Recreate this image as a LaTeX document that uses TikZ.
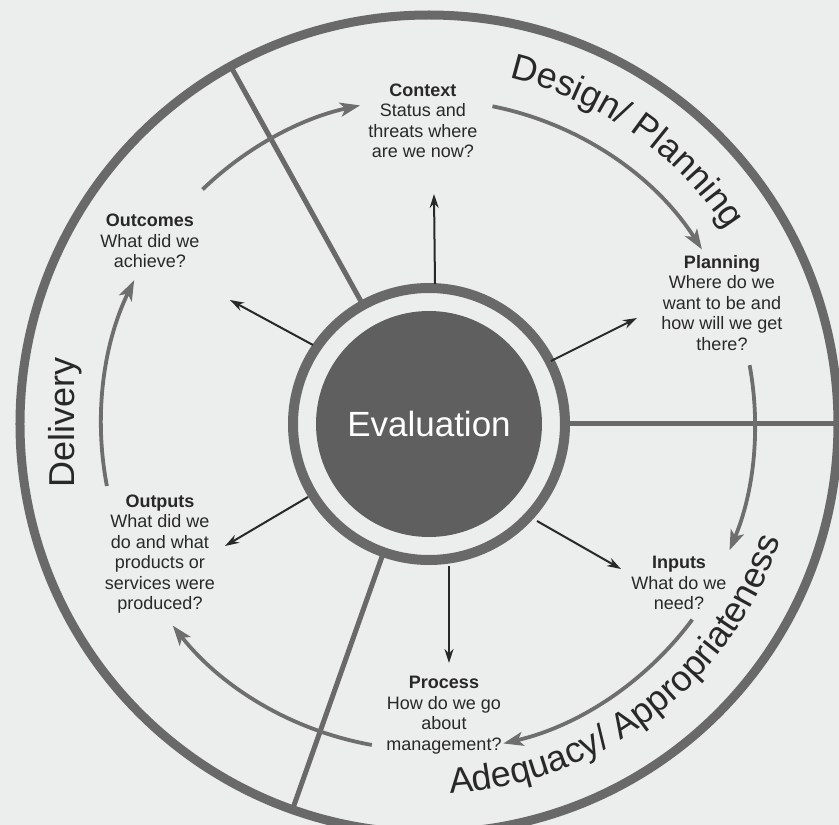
\documentclass[tikz,border=0pt]{standalone}
\usepackage{fontspec}
\setmainfont{Liberation Sans}
\usetikzlibrary{arrows.meta,decorations.text}
\definecolor{bg}{RGB}{236,237,237}
\definecolor{ringgrey}{RGB}{105,105,105}
\definecolor{corefill}{RGB}{95,95,95}
\definecolor{ink}{RGB}{40,40,40}
\definecolor{arrowgrey}{RGB}{110,110,110}
\begin{document}
\begin{tikzpicture}[x=1pt,y=1pt,
  lbl/.style={align=center, text=ink, font=\fontsize{18}{20.5}\selectfont, inner sep=0pt},
  spoke/.style={draw=ink, line width=2pt, -{Stealth[length=14pt,width=9pt]}},
  cyc/.style={draw=arrowgrey, line width=3.8pt, -{Stealth[length=20pt,width=14pt,inset=5pt]}},
  divider/.style={draw=ringgrey, line width=5pt},
  bigword/.style={text=ink, font=\fontsize{36}{36}\selectfont},
]
\fill[bg] (-429,-401) rectangle (410,424);
\useasboundingbox (-429,-401) rectangle (410,424);
\clip (-429,-401) rectangle (410,424);

\coordinate (O) at (0,0);
% outer circle
\draw[ringgrey, line width=9pt] (O) circle[radius=409];

% dividers
\coordinate (d1a) at (119:140);   \coordinate (d1b) at (119:409);
\coordinate (d2a) at (0:140);     \coordinate (d2b) at (0:409);
\coordinate (d3a) at (-109.5:140);\coordinate (d3b) at (-109.5:409);
\draw[divider] (d1a) -- (d1b);
\draw[divider] (d2a) -- (d2b);
\draw[divider] (d3a) -- (d3b);

% core and ring
\node[circle, draw=ringgrey, line width=10pt, minimum size=272pt, inner sep=0pt, outer sep=0pt] (ring) at (O) {};
\node[circle, fill=corefill, minimum size=226pt, inner sep=0pt, text=white, font=\fontsize{35}{35}\selectfont] (core) at (O) {Evaluation};

% labels
\node[lbl] (context) at (-6,303) {\textbf{Context}\\Status and\\threats where\\are we now?};
\node[lbl] (planning) at (293,121) {\textbf{Planning}\\Where do we\\want to be and\\how will we get\\there?};
\node[lbl] (inputs) at (250,-159) {\textbf{Inputs}\\What do we\\need?};
\node[lbl] (process) at (15,-291) {\textbf{Process}\\How do we go\\about\\management?};
\node[lbl] (outputs) at (-269,-130) {\textbf{Outputs}\\What did we\\do and what\\products or\\services were\\produced?};
\node[lbl] (outcomes) at (-279,183) {\textbf{Outcomes}\\What did we\\achieve?};

% spokes
\coordinate (s1a) at (6,140);     \coordinate (s1b) at (5,230);
\coordinate (s2a) at (122,63);    \coordinate (s2b) at (208,106);
\coordinate (s3a) at (108,-97);   \coordinate (s3b) at (192,-145);
\coordinate (s4a) at (20,-142);   \coordinate (s4b) at (20,-239);
\coordinate (s5a) at (-121,-73);  \coordinate (s5b) at (-204,-122);
\coordinate (s6a) at (-116,79);   \coordinate (s6b) at (-199,124);
\draw[spoke] (s1a) -- (s1b);
\draw[spoke] (s2a) -- (s2b);
\draw[spoke] (s3a) -- (s3b);
\draw[spoke] (s4a) -- (s4b);
\draw[spoke] (s5a) -- (s5b);
\draw[spoke] (s6a) -- (s6b);

% cycle arrows
\coordinate (c1) at (134:326);
\coordinate (c2) at (78.7:324);
\coordinate (c3) at (10.4:326);
\coordinate (c4) at (-36.6:328);
\coordinate (c5) at (-100.1:326);
\coordinate (c6) at (-169.1:328);
\draw[cyc] (c1) arc[start angle=134, end angle=102.2, radius=326];
\draw[cyc] (c2) arc[start angle=78.7, end angle=32.6, radius=324];
\draw[cyc] (c3) arc[start angle=10.4, end angle=-22.8, radius=326];
\draw[cyc] (c4) arc[start angle=-36.6, end angle=-76.9, radius=328];
\draw[cyc] (c5) arc[start angle=-100.1, end angle=-141.8, radius=326];
\draw[cyc] (c6) arc[start angle=-169.1, end angle=-206, radius=328];

% curved phase names
\path[decorate, decoration={text along path, text align=center, text color=ink,
  text={|\fontsize{36}{36}\selectfont|Design/ Planning}}]
  (100:355) arc[start angle=100, end angle=10, radius=355];
\path[decorate, decoration={text along path, text align=center, text color=ink,
  text={|\fontsize{36}{36}\selectfont|Adequacy/ Appropriateness}}]
  (-100:370) arc[start angle=-100, end angle=-5, radius=370];
\node[bigword, rotate=90, anchor=base] (delivery) at (-354,2) {Delivery};
\end{tikzpicture}
\end{document}
